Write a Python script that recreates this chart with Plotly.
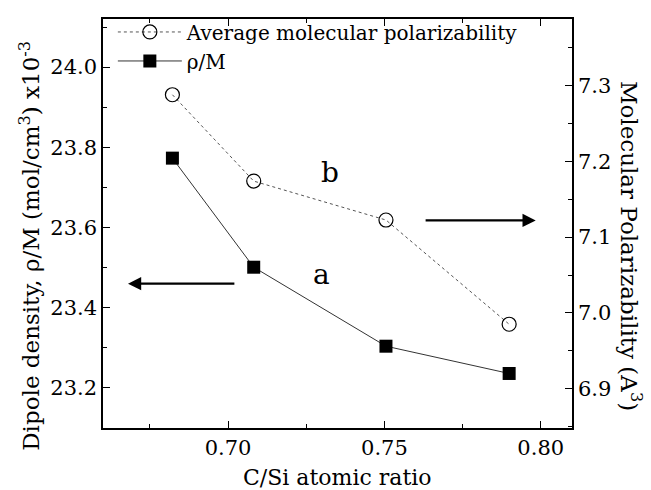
import plotly.graph_objects as go

cs_ratio = [0.6822, 0.7082, 0.7505, 0.7899]
rho_over_m = [23.773, 23.501, 23.304, 23.236]
avg_polarizability = [7.288, 7.174, 7.1226, 6.985]

x_ticks = [0.70, 0.75, 0.80]
left_ticks = [23.2, 23.4, 23.6, 23.8, 24.0]
right_ticks = [6.9, 7.0, 7.1, 7.2, 7.3]

FONT = "DejaVu Serif"

fig = go.Figure()
fig.add_trace(go.Scatter(
    x=cs_ratio, y=avg_polarizability, yaxis="y2", mode="lines+markers",
    name="Average molecular polarizability",
    line=dict(color="#555555", width=1, dash="dot"),
    marker=dict(symbol="circle-open", size=14, color="black", line=dict(width=1.2, color="black")),
))
fig.add_trace(go.Scatter(
    x=cs_ratio, y=rho_over_m, mode="lines+markers", name="ρ/M",
    line=dict(color="#333333", width=1),
    marker=dict(symbol="square", size=13, color="black"),
))

axis_common = dict(
    showgrid=False, zeroline=False, showline=True, linecolor="black", linewidth=1.5,
    ticks="inside", ticklen=7, tickwidth=1.2, tickcolor="black",
    tickfont=dict(family=FONT, size=21, color="black"),
)

fig.update_layout(
    width=651, height=490,
    margin=dict(l=103, r=79, t=12, b=62),
    paper_bgcolor="white", plot_bgcolor="white",
    font=dict(family=FONT, size=21, color="black"),
    xaxis=dict(range=[0.66, 0.81], tickvals=x_ticks, ticktext=[f"{v:.2f}" for v in x_ticks],
               mirror="ticks",
               minor=dict(dtick=0.025, tick0=0.675, ticks="inside", ticklen=4, tickcolor="black", showgrid=False),
               **axis_common),
    yaxis=dict(range=[23.1, 24.12], tickvals=left_ticks, ticktext=[f"{v:.1f}" for v in left_ticks],
               minor=dict(dtick=0.1, tick0=23.1, ticks="inside", ticklen=4, tickcolor="black", showgrid=False),
               **axis_common),
    yaxis2=dict(range=[6.848, 7.388], tickvals=right_ticks, ticktext=[f"{v:.1f}" for v in right_ticks],
                overlaying="y", side="right",
                minor=dict(dtick=0.05, tick0=6.85, ticks="inside", ticklen=4, tickcolor="black", showgrid=False),
                **axis_common),
    showlegend=True,
    legend=dict(x=0.021, y=1.016, xanchor="left", yanchor="top", bgcolor="rgba(0,0,0,0)",
                font=dict(family=FONT, size=20, color="black"), tracegroupgap=0, itemwidth=64),
)

annotations = [
    dict(text="C/Si atomic ratio", xref="paper", yref="paper", x=0.5, y=-0.12,
         xanchor="center", yanchor="middle", showarrow=False, font=dict(family=FONT, size=22)),
    dict(text="Dipole density, ρ/M (mol/cm<sup>3</sup>) x10<sup>-3</sup>", xref="paper", yref="paper",
         x=-0.156, y=0.445, xanchor="center", yanchor="middle", textangle=-90, showarrow=False,
         font=dict(family=FONT, size=23)),
    dict(text="Molecular Polarizability (A<sup>3</sup>)", xref="paper", yref="paper",
         x=1.126, y=0.445, xanchor="center", yanchor="middle", textangle=90, showarrow=False,
         font=dict(family=FONT, size=23)),
    dict(text="b", xref="x", yref="y", x=0.7325, y=23.737, showarrow=False,
         font=dict(family=FONT, size=28)),
    dict(text="a", xref="x", yref="y", x=0.7298, y=23.482, showarrow=False,
         font=dict(family=FONT, size=28)),
    dict(text="", xref="x", yref="y", x=0.668, y=23.46, ax=0.7025, ay=23.46,
         axref="x", ayref="y", showarrow=True, arrowhead=2, arrowsize=1.2, arrowwidth=2.2, arrowcolor="black"),
    dict(text="", xref="x", yref="y2", x=0.7984, y=7.122, ax=0.7627, ay=7.122,
         axref="x", ayref="y2", showarrow=True, arrowhead=2, arrowsize=1.2, arrowwidth=2.2, arrowcolor="black"),
]
fig.update_layout(annotations=annotations)

fig.write_html("out.html")
